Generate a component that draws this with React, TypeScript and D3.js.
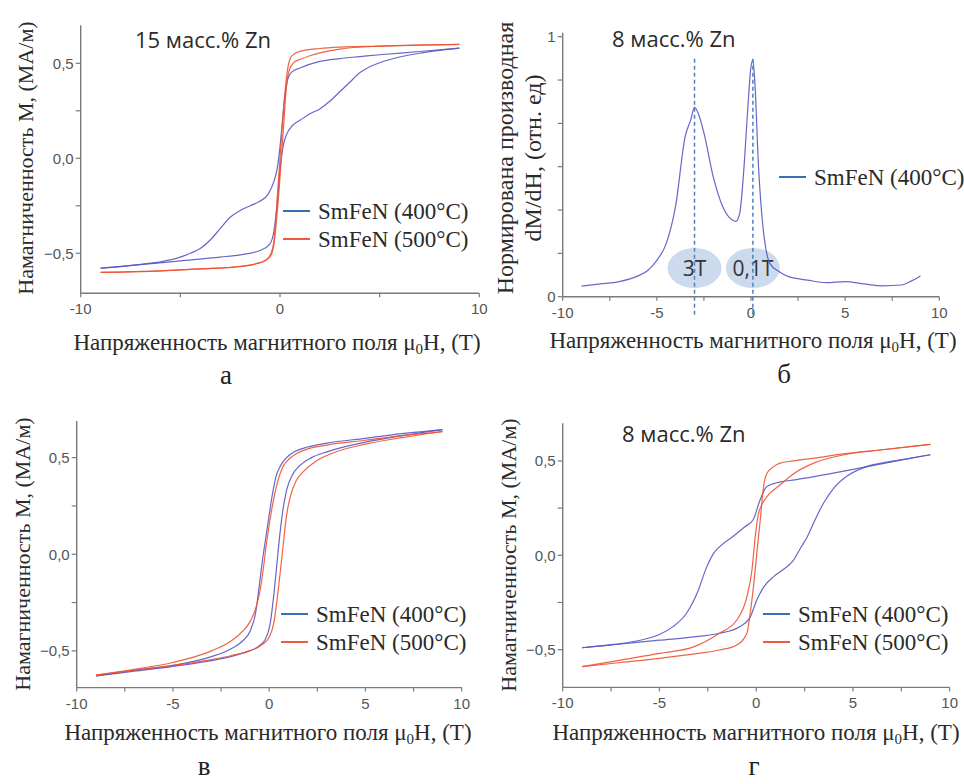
import React, { useEffect, useRef } from 'react';
import * as d3 from 'd3';

// ---------- панель а : 15 масс.% Zn ----------
const aBlueDescH = [9, 7, 5, 4, 3, 2, 1, 0.6, 0.4, 0.25, 0.1, 0, -0.15, -0.3, -0.6, -1, -1.5, -2, -2.5, -3, -3.5, -4, -4.5, -5, -6, -7, -8, -9];
const aBlueDescM = [0.58, 0.562, 0.545, 0.535, 0.525, 0.51, 0.475, 0.455, 0.42, 0.33, 0.17, 0.06, -0.06, -0.12, -0.19, -0.225, -0.25, -0.275, -0.31, -0.37, -0.43, -0.475, -0.5, -0.52, -0.545, -0.558, -0.57, -0.578];
const aBlueAscH = [-9, -7, -5, -3, -2, -1, -0.5, -0.3, -0.15, 0, 0.15, 0.35, 0.6, 1, 1.5, 2, 2.5, 3, 3.5, 4, 4.5, 5, 6, 7, 8, 9];
const aBlueAscM = [-0.578, -0.56, -0.54, -0.52, -0.508, -0.485, -0.45, -0.38, -0.25, -0.06, 0.06, 0.13, 0.17, 0.2, 0.235, 0.26, 0.3, 0.35, 0.4, 0.45, 0.482, 0.503, 0.533, 0.553, 0.568, 0.58];
const aRedDescH = [9, 5, 3, 2, 1, 0.6, 0.4, 0.25, 0.1, 0, -0.1, -0.2, -0.3, -0.45, -0.7, -1.2, -2, -4, -6, -9];
const aRedDescM = [0.6, 0.59, 0.585, 0.578, 0.563, 0.54, 0.48, 0.35, 0.15, 0.0, -0.15, -0.3, -0.43, -0.5, -0.535, -0.555, -0.568, -0.582, -0.592, -0.6];
const aRedAscH = [-9, -6, -4, -2, -1.2, -0.7, -0.45, -0.3, -0.15, 0, 0.1, 0.2, 0.3, 0.45, 0.7, 1, 1.5, 2, 3, 5, 9];
const aRedAscM = [-0.6, -0.592, -0.582, -0.57, -0.555, -0.535, -0.51, -0.45, -0.3, -0.1, 0.05, 0.2, 0.35, 0.46, 0.505, 0.52, 0.54, 0.555, 0.575, 0.59, 0.6];

// ---------- панель б : производная, 8 масс.% Zn ----------
const bH = [-9, -8, -7, -6, -5.5, -5, -4.5, -4, -3.5, -3.2, -3, -2.8, -2.5, -2, -1.5, -1, -0.8, -0.6, -0.4, -0.2, 0, 0.1, 0.2, 0.4, 0.6, 0.8, 1, 1.5, 2, 3, 4, 5, 6, 7, 8, 8.5, 9];
const bD = [0.041, 0.049, 0.058, 0.08, 0.1, 0.14, 0.205, 0.35, 0.615, 0.68, 0.728, 0.705, 0.63, 0.46, 0.346, 0.295, 0.29, 0.32, 0.47, 0.69, 0.885, 0.91, 0.83, 0.5, 0.295, 0.18, 0.128, 0.096, 0.077, 0.064, 0.054, 0.058, 0.049, 0.042, 0.045, 0.06, 0.08];
const bPeaks = [-3, 0.1];
const bPeakLabels = ['3T', '0,1T'];

// ---------- панель в ----------
const vBlueDescH = [9, 7, 5, 3, 2, 1.3, 0.9, 0.6, 0.35, 0.15, -0.05, -0.2, -0.35, -0.5, -0.7, -1.0, -1.4, -2, -3, -5, -7, -9];
const vBlueDescM = [0.645, 0.625, 0.6, 0.575, 0.555, 0.53, 0.5, 0.46, 0.4, 0.3, 0.17, 0.07, -0.03, -0.15, -0.3, -0.4, -0.45, -0.49, -0.53, -0.575, -0.6, -0.63];
const vBlueAscH = [-9, -7, -5, -3, -2, -1.2, -0.6, -0.2, 0.05, 0.25, 0.4, 0.55, 0.7, 0.9, 1.2, 1.6, 2.2, 3, 5, 7, 9];
const vBlueAscM = [-0.63, -0.605, -0.58, -0.55, -0.53, -0.505, -0.48, -0.44, -0.36, -0.2, -0.05, 0.1, 0.22, 0.33, 0.41, 0.46, 0.5, 0.53, 0.58, 0.615, 0.645];
const vRedDescH = [9, 7, 5, 3, 2, 1.4, 1.0, 0.7, 0.45, 0.2, 0, -0.15, -0.3, -0.5, -0.7, -1.0, -1.5, -2, -3, -5, -7, -9];
const vRedDescM = [0.635, 0.615, 0.59, 0.565, 0.545, 0.52, 0.49, 0.45, 0.38, 0.27, 0.15, 0.05, -0.07, -0.2, -0.28, -0.35, -0.41, -0.45, -0.5, -0.56, -0.595, -0.625];
const vRedAscH = [-9, -7, -5, -3, -2, -1, -0.4, 0, 0.25, 0.45, 0.6, 0.75, 0.9, 1.1, 1.4, 1.8, 2.4, 3.2, 5, 7, 9];
const vRedAscM = [-0.625, -0.6, -0.575, -0.545, -0.525, -0.5, -0.47, -0.43, -0.35, -0.2, -0.07, 0.07, 0.2, 0.3, 0.38, 0.43, 0.48, 0.52, 0.57, 0.605, 0.635];

// ---------- панель г : 8 масс.% Zn ----------
const gBlueDescH = [9, 7, 5, 3, 2, 1.2, 0.55, 0.2, -0.15, -0.6, -1.2, -1.9, -2.2, -2.55, -3.05, -3.6, -4.3, -5, -6, -7, -8, -9];
const gBlueDescM = [0.533, 0.495, 0.455, 0.417, 0.4, 0.388, 0.364, 0.293, 0.19, 0.15, 0.1, 0.045, 0.01, -0.06, -0.2, -0.307, -0.378, -0.42, -0.45, -0.468, -0.48, -0.49];
const gBlueAscH = [-9, -7, -5, -3, -1.9, -0.85, -0.3, 0.03, 0.4, 0.9, 1.4, 1.9, 2.3, 2.65, 3.05, 3.5, 4, 4.7, 5.7, 6.9, 9];
const gBlueAscM = [-0.49, -0.47, -0.45, -0.43, -0.413, -0.378, -0.325, -0.237, -0.166, -0.113, -0.075, -0.03, 0.04, 0.1, 0.19, 0.28, 0.355, 0.42, 0.47, 0.496, 0.533];
const gRedDescH = [9, 6.4, 4.7, 3, 1.9, 1.2, 0.9, 0.55, 0.38, 0.21, 0.03, -0.14, -0.31, -0.48, -1.0, -1.9, -3, -5, -7, -9];
const gRedDescM = [0.588, 0.558, 0.54, 0.515, 0.5, 0.487, 0.47, 0.434, 0.364, 0.187, 0.01, -0.166, -0.307, -0.413, -0.475, -0.502, -0.52, -0.546, -0.568, -0.59];
const gRedAscH = [-9, -7, -5, -3.2, -1.9, -1.0, -0.48, -0.22, -0.05, 0.12, 0.55, 1.2, 1.9, 3, 4.7, 6.4, 9];
const gRedAscM = [-0.59, -0.555, -0.52, -0.484, -0.413, -0.343, -0.219, -0.078, 0.099, 0.222, 0.31, 0.37, 0.43, 0.49, 0.536, 0.558, 0.588];

const legend400 = 'SmFeN (400°C)';
const legend500 = 'SmFeN (500°C)';
const mTicks = [-0.5, -0.25, 0, 0.25, 0.5];
const mTickLabels = [-0.5, 0, 0.5];
const bTicks = [0, 1 / 6, 2 / 6, 3 / 6, 4 / 6, 5 / 6, 1];
const bTickLabels = [0, 1];
const hTicksMinor = [-10, -7.5, -5, -2.5, 0, 2.5, 5, 7.5, 10];
const hTicksMajor = [-10, -5, 0, 5, 10];
const hTicksA = [-10, -5, 0, 5, 10];
const hTickLabelsA = [-10, 0, 10];

const BLUE = '#5656c4';
const RED = '#ee5232';
const BLUE_LEG = '#3a6fb3';
const RED_LEG = '#f0593c';
const SERIF = "'Liberation Serif', 'Times New Roman', serif";
const SANS = "'Liberation Sans', Arial, sans-serif";
const NOTE = "'Open Sans', 'Noto Sans', sans-serif";

const fmtM = (d) => (d === 0 ? '0,0' : d3.format('.1f')(d).replace('.', ','));
const fmtB = (d) => String(d);

const panels = [
  {
    xr: [80.7, 479.3], yd: [-0.71, 0.70], yr: [293.2, 25.3],
    xTicks: hTicksA, xLabels: hTickLabelsA, yTicks: mTicks, yLabels: mTickLabels, fmt: fmtM,
    series: [
      { H: aBlueDescH, M: aBlueDescM, c: BLUE }, { H: aBlueAscH, M: aBlueAscM, c: BLUE },
      { H: aRedDescH, M: aRedDescM, c: RED }, { H: aRedAscH, M: aRedAscM, c: RED },
    ],
    legend: [{ t: legend400, c: BLUE_LEG }, { t: legend500, c: RED_LEG }], legX: 283, legY: 211,
    note: '15 масс.% Zn', noteX: 135, noteY: 48,
    yLab: ['Намагниченность M, (MA/м)'], yLabX: [33], yLabY: 158, yLabSize: 22,
    xLabX: 277, xLabY: 350, letter: 'а', letX: 226, letY: 384,
  },
  {
    xr: [562.7, 939.3], yd: [0, 1.015], yr: [296.7, 32.8],
    xTicks: hTicksMinor, xLabels: hTicksMajor, yTicks: bTicks, yLabels: bTickLabels, fmt: fmtB,
    series: [{ H: bH, M: bD, c: BLUE }],
    legend: [{ t: legend400, c: BLUE_LEG }], legX: 779, legY: 177,
    note: '8 масс.% Zn', noteX: 612, noteY: 47,
    yLab: ['Нормирована производная', 'dM/dH, (отн. ед)'], yLabX: [513, 541], yLabY: 158, yLabSize: 24,
    xLabX: 753, xLabY: 348, letter: 'б', letX: 784, letY: 383, peaks: true,
  },
  {
    xr: [76.7, 461.7], yd: [-0.69, 0.69], yr: [687.6, 420.9],
    xTicks: hTicksMinor, xLabels: hTicksMajor, yTicks: mTicks, yLabels: mTickLabels, fmt: fmtM,
    series: [
      { H: vBlueDescH, M: vBlueDescM, c: BLUE }, { H: vBlueAscH, M: vBlueAscM, c: BLUE },
      { H: vRedDescH, M: vRedDescM, c: RED }, { H: vRedAscH, M: vRedAscM, c: RED },
    ],
    legend: [{ t: legend400, c: BLUE_LEG }, { t: legend500, c: RED_LEG }], legX: 281, legY: 614,
    note: null, noteX: 0, noteY: 0,
    yLab: ['Намагниченность M, (MA/м)'], yLabX: [30], yLabY: 554, yLabSize: 22,
    xLabX: 268, xLabY: 740, letter: 'в', letX: 204, letY: 775,
  },
  {
    xr: [562.7, 949.7], yd: [-0.70, 0.70], yr: [687.4, 423.2],
    xTicks: hTicksMinor, xLabels: hTicksMajor, yTicks: mTicks, yLabels: mTickLabels, fmt: fmtM,
    series: [
      { H: gBlueDescH, M: gBlueDescM, c: BLUE }, { H: gBlueAscH, M: gBlueAscM, c: BLUE },
      { H: gRedDescH, M: gRedDescM, c: RED }, { H: gRedAscH, M: gRedAscM, c: RED },
    ],
    legend: [{ t: legend400, c: BLUE_LEG }, { t: legend500, c: RED_LEG }], legX: 763, legY: 614,
    note: '8 масс.% Zn', noteX: 622, noteY: 442,
    yLab: ['Намагниченность M, (MA/м)'], yLabX: [516], yLabY: 555, yLabSize: 22,
    xLabX: 756, xLabY: 740, letter: 'г', letX: 754, letY: 775,
  },
];

function drawPanel(svg, p) {
  const x = d3.scaleLinear().domain([-10, 10]).range(p.xr);
  const y = d3.scaleLinear().domain(p.yd).range(p.yr);
  const g = svg.append('g');
  const axisColor = '#7a7a7a';

  // axes lines
  g.append('line').attr('x1', p.xr[0]).attr('x2', p.xr[1]).attr('y1', p.yr[0]).attr('y2', p.yr[0])
    .attr('stroke', axisColor).attr('stroke-width', 1.4);
  g.append('line').attr('x1', p.xr[0]).attr('x2', p.xr[0]).attr('y1', p.yr[0]).attr('y2', p.yr[1])
    .attr('stroke', axisColor).attr('stroke-width', 1.4);

  // x ticks
  g.selectAll('.xt').data(p.xTicks).enter().append('line')
    .attr('x1', d => x(d)).attr('x2', d => x(d))
    .attr('y1', p.yr[0]).attr('y2', p.yr[0] + 4)
    .attr('stroke', axisColor).attr('stroke-width', 1.2);
  g.selectAll('.xl').data(p.xLabels).enter().append('text')
    .attr('x', d => x(d)).attr('y', p.yr[0] + 21)
    .attr('text-anchor', 'middle').attr('font-family', SANS).attr('font-size', 15).attr('fill', '#555')
    .text(d => String(d));

  // y ticks
  g.selectAll('.yt').data(p.yTicks).enter().append('line')
    .attr('x1', p.xr[0] - 5).attr('x2', p.xr[0])
    .attr('y1', d => y(d)).attr('y2', d => y(d))
    .attr('stroke', axisColor).attr('stroke-width', 1.2);
  g.selectAll('.yl').data(p.yLabels).enter().append('text')
    .attr('x', p.xr[0] - 7).attr('y', d => y(d)).attr('dy', '0.35em')
    .attr('text-anchor', 'end').attr('font-family', SANS).attr('font-size', 15).attr('fill', '#555')
    .text(d => p.fmt(d));

  // peak markers (panel б)
  if (p.peaks) {
    bPeaks.forEach((v, i) => {
      g.append('ellipse').attr('cx', x(v)).attr('cy', y(0.11)).attr('rx', 27).attr('ry', 20)
        .attr('fill', '#c3d4ea').attr('opacity', 0.85);
      g.append('text').attr('x', x(v)).attr('y', y(0.11)).attr('dy', '0.36em')
        .attr('text-anchor', 'middle').attr('font-family', NOTE).attr('font-size', 21).attr('fill', '#333')
        .text(bPeakLabels[i]);
    });
  }

  // curves
  const line = d3.line()
    .x(d => x(d[0]))
    .y(d => y(d[1]))
    .curve(d3.curveMonotoneX);
  p.series.forEach(s => {
    const pts = d3.zip(s.H, s.M).sort((a, b) => a[0] - b[0]);
    g.append('path').datum(pts)
      .attr('fill', 'none').attr('stroke', s.c).attr('stroke-width', 1.2).attr('opacity', 0.9)
      .attr('d', line);
  });

  if (p.peaks) {
    bPeaks.forEach(v => {
      g.append('line').attr('x1', x(v)).attr('x2', x(v)).attr('y1', y(0.915)).attr('y2', p.yr[0] + 18)
        .attr('stroke', '#4d80c0').attr('stroke-width', 1.5).attr('stroke-dasharray', '4,3');
    });
  }

  // legend
  p.legend.forEach((l, i) => {
    const ly = p.legY + i * 28;
    g.append('line').attr('x1', p.legX).attr('x2', p.legX + 27).attr('y1', ly).attr('y2', ly)
      .attr('stroke', l.c).attr('stroke-width', 2);
    g.append('text').attr('x', p.legX + 35).attr('y', ly).attr('dy', '0.35em')
      .attr('font-family', SERIF).attr('font-size', 23).attr('fill', '#2a2a2a').text(l.t);
  });

  // note
  if (p.note) {
    g.append('text').attr('x', p.noteX).attr('y', p.noteY)
      .attr('font-family', NOTE).attr('font-size', 22).attr('fill', '#2a2a2a').text(p.note);
  }

  // y label
  p.yLab.forEach((t, i) => {
    g.append('text')
      .attr('transform', `translate(${p.yLabX[i]},${p.yLabY}) rotate(-90)`)
      .attr('text-anchor', 'middle').attr('font-family', SERIF).attr('font-size', p.yLabSize).attr('fill', '#2a2a2a')
      .text(t);
  });

  // x label with subscript
  const xl = g.append('text').attr('x', p.xLabX).attr('y', p.xLabY)
    .attr('text-anchor', 'middle').attr('font-family', SERIF).attr('font-size', 23).attr('fill', '#2a2a2a');
  xl.append('tspan').text('Напряженность магнитного поля μ');
  xl.append('tspan').attr('font-size', 15).attr('dy', 4).text('0');
  xl.append('tspan').attr('dy', -4).text('H, (T)');

  // panel letter
  g.append('text').attr('x', p.letX).attr('y', p.letY).attr('text-anchor', 'middle')
    .attr('font-family', SERIF).attr('font-size', 27).attr('fill', '#222').text(p.letter);
}

const App = () => {
  const svgRef = useRef(null);

  useEffect(() => {
    const svg = d3.select(svgRef.current);
    svg.selectAll('*').remove();
    panels.forEach(p => drawPanel(svg, p));
  }, []);

  return (
    <svg ref={svgRef} width={964} height={784}
      style={{ position: 'absolute', left: 0, top: 0, background: '#fff' }} />
  );
};

export default App;
